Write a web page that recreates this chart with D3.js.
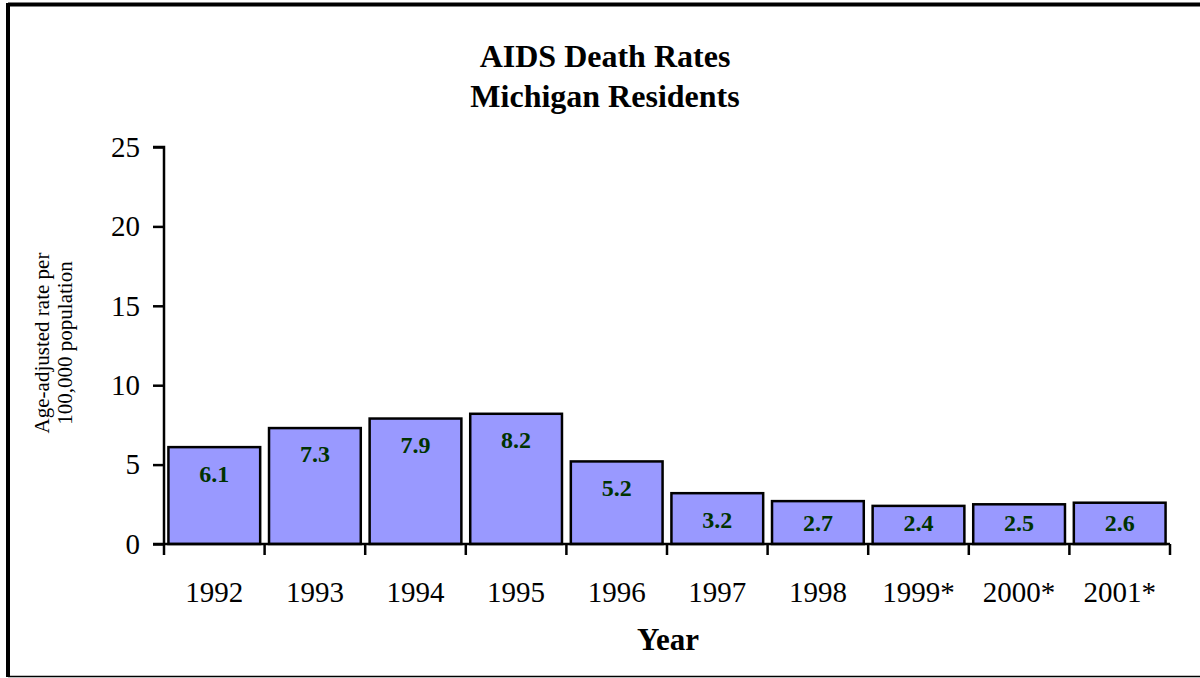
<!DOCTYPE html>
<html>
<head>
<meta charset="utf-8">
<script src="https://cdn.jsdelivr.net/npm/d3@7"></script>
<style>
    body { margin: 0; background: #fff; }
    svg { display: block; font-family: "Liberation Serif", "Times New Roman", serif; }
</style>
</head>
<body>
<div id="chart"></div>
<script>
// data
let years = ["1992", "1993", "1994", "1995", "1996", "1997", "1998", "1999*", "2000*", "2001*"];
let rates = [6.1, 7.3, 7.9, 8.2, 5.2, 3.2, 2.7, 2.4, 2.5, 2.6];
let yTicks = [0, 5, 10, 15, 20, 25];

let width = 1200, height = 678;
let margin = {left: 164, right: 30, top: 147, bottom: 134};

let svg = d3.select("#chart").append("svg")
    .attr("width", width)
    .attr("height", height);

// outer frame (right side is cut off in the original)
svg.append("line").attr("x1", 8).attr("x2", width).attr("y1", 4.5).attr("y2", 4.5)
    .attr("stroke", "#000").attr("stroke-width", 4);
svg.append("line").attr("x1", 8).attr("x2", 8).attr("y1", 3).attr("y2", 677)
    .attr("stroke", "#000").attr("stroke-width", 4);
svg.append("line").attr("x1", 8).attr("x2", width).attr("y1", 676.5).attr("y2", 676.5)
    .attr("stroke", "#000").attr("stroke-width", 1.5);

let data = years.map((d, i) => ({year: d, rate: rates[i]}));

// scales
let x = d3.scaleBand()
    .domain(years)
    .range([margin.left, width - margin.right])
    .paddingInner(0.088)
    .paddingOuter(0.044);

let y = d3.scaleLinear()
    .domain([0, 25])
    .range([height - margin.bottom, margin.top]);

// title
let title = svg.append("text")
    .attr("text-anchor", "middle")
    .attr("font-weight", "bold")
    .attr("font-size", 32);
title.append("tspan").attr("x", 605).attr("y", 67).text("AIDS Death Rates");
title.append("tspan").attr("x", 605).attr("y", 107).text("Michigan Residents");

// bars
svg.selectAll(".bar")
    .data(data)
    .enter().append("rect")
    .attr("class", "bar")
    .attr("x", d => x(d.year))
    .attr("width", x.bandwidth())
    .attr("y", d => y(d.rate))
    .attr("height", d => y(0) - y(d.rate))
    .attr("fill", "#9999FF")
    .attr("stroke", "#000")
    .attr("stroke-width", 2.5);

// value labels, inside end
svg.selectAll(".label")
    .data(data)
    .enter().append("text")
    .attr("class", "label")
    .attr("x", d => x(d.year) + x.bandwidth() / 2)
    .attr("y", d => Math.min(y(d.rate) + 26, y(0) - 21))
    .attr("dy", "0.35em")
    .attr("text-anchor", "middle")
    .attr("font-weight", "bold")
    .attr("font-size", 24)
    .attr("fill", "#003300")
    .text(d => d3.format(".1f")(d.rate));

// y axis
let yAxis = d3.axisLeft(y)
    .tickValues(yTicks)
    .tickSize(11)
    .tickPadding(13)
    .tickFormat(d3.format("d"));

svg.append("g")
    .attr("class", "y-axis axis")
    .attr("transform", "translate(" + margin.left + ",0)")
    .call(yAxis);

// x axis: ticks sit between categories
let xAxisG = svg.append("g")
    .attr("class", "x-axis axis")
    .attr("transform", "translate(0," + y(0) + ")");

let step = x.step();
let bounds = d3.range(years.length + 1).map(i => margin.left + i * step);

xAxisG.append("line")
    .attr("x1", margin.left - 11).attr("x2", bounds[bounds.length - 1])
    .attr("stroke", "#000").attr("stroke-width", 2.5);

xAxisG.selectAll(".xtick")
    .data(bounds)
    .enter().append("line")
    .attr("class", "xtick")
    .attr("x1", d => d).attr("x2", d => d)
    .attr("y1", 0).attr("y2", 11)
    .attr("stroke", "#000").attr("stroke-width", 2.5);

xAxisG.selectAll(".xlabel")
    .data(years)
    .enter().append("text")
    .attr("class", "xlabel")
    .attr("x", d => x(d) + x.bandwidth() / 2)
    .attr("y", 58)
    .attr("text-anchor", "middle")
    .attr("font-size", 29)
    .attr("fill", "#000")
    .text(d => d);

svg.selectAll(".axis path").attr("stroke", "#000").attr("stroke-width", 2.5);
svg.selectAll(".y-axis .tick line").attr("stroke", "#000").attr("stroke-width", 2.5);
svg.selectAll(".y-axis .tick text")
    .attr("font-size", 29)
    .attr("font-family", "Liberation Serif, Times New Roman, serif")
    .attr("fill", "#000");
svg.select(".y-axis .domain").attr("d", "M-11," + y(25) + "H0V" + y(0));

// axis titles
svg.append("text")
    .attr("x", 668)
    .attr("y", 650)
    .attr("text-anchor", "middle")
    .attr("font-weight", "bold")
    .attr("font-size", 31)
    .text("Year");

let yTitle = svg.append("text")
    .attr("transform", "translate(0,343) rotate(-90)")
    .attr("text-anchor", "middle")
    .attr("font-size", 21);
yTitle.append("tspan").attr("x", 0).attr("y", 49).text("Age-adjusted rate per");
yTitle.append("tspan").attr("x", 0).attr("y", 72).text("100,000 population");
</script>
</body>
</html>
